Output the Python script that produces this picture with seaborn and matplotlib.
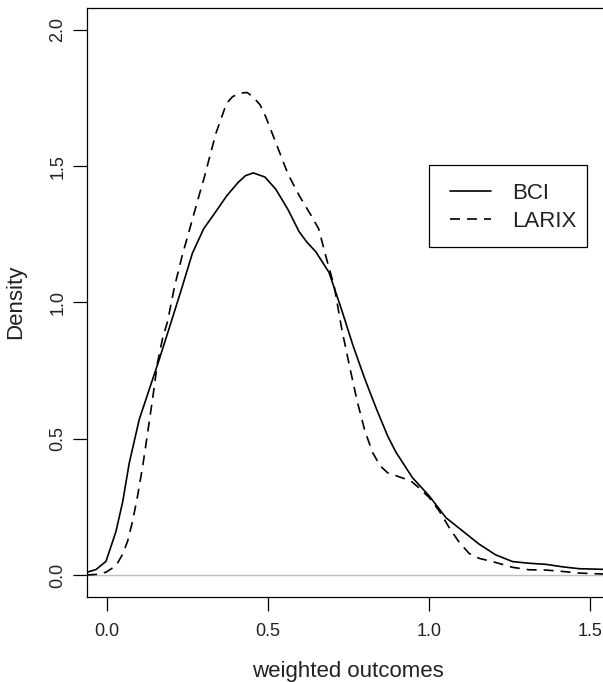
import matplotlib
matplotlib.use("Agg")
import matplotlib.pyplot as plt
import seaborn as sns
import pandas as pd
from matplotlib.lines import Line2D
from matplotlib.patches import Rectangle

# ---- data (density curves) ----
bci_x = [-0.062, -0.034, -0.003, 0.028, 0.049, 0.069, 0.10, 0.131, 0.162, 0.193,
         0.229, 0.265, 0.30, 0.336, 0.371, 0.407, 0.43, 0.454, 0.49, 0.524, 0.562,
         0.596, 0.621, 0.648, 0.689, 0.729, 0.764, 0.80, 0.836, 0.871, 0.897,
         0.948, 1.0, 1.052, 1.103, 1.155, 1.206, 1.259, 1.31, 1.362, 1.413,
         1.465, 1.528, 1.56]
bci_y = [0.01, 0.02, 0.05, 0.16, 0.27, 0.41, 0.57, 0.68, 0.79, 0.905,
         1.04, 1.18, 1.27, 1.33, 1.39, 1.44, 1.465, 1.475, 1.46, 1.415, 1.34,
         1.26, 1.22, 1.186, 1.11, 0.97, 0.84, 0.72, 0.61, 0.51, 0.45,
         0.357, 0.29, 0.21, 0.162, 0.113, 0.074, 0.049, 0.043, 0.039, 0.03,
         0.023, 0.021, 0.02]

larix_x = [-0.062, -0.034, -0.003, 0.028, 0.049, 0.064, 0.08, 0.095, 0.111, 0.126,
           0.142, 0.157, 0.173, 0.188, 0.21, 0.234, 0.264, 0.286, 0.30, 0.338,
           0.371, 0.39, 0.415, 0.435, 0.455, 0.475, 0.493, 0.526, 0.562, 0.596,
           0.633, 0.657, 0.679, 0.705, 0.729, 0.752, 0.776, 0.80, 0.824, 0.848,
           0.871, 0.907, 0.943, 0.968, 1.0, 1.031, 1.062, 1.093, 1.124, 1.155,
           1.206, 1.259, 1.31, 1.362, 1.413, 1.465, 1.528, 1.56]
larix_y = [0.0, 0.002, 0.01, 0.034, 0.077, 0.124, 0.2, 0.29, 0.40, 0.52,
           0.65, 0.78, 0.87, 0.93, 1.06, 1.174, 1.30, 1.393, 1.45, 1.62,
           1.73, 1.755, 1.768, 1.77, 1.752, 1.725, 1.68, 1.58, 1.47, 1.393,
           1.32, 1.27, 1.17, 1.06, 0.90, 0.77, 0.64, 0.53, 0.45, 0.40,
           0.375, 0.36, 0.345, 0.32, 0.284, 0.235, 0.174, 0.12, 0.079, 0.061,
           0.046, 0.028, 0.019, 0.018, 0.013, 0.007, 0.004, 0.003]

series_names = ["BCI", "LARIX"]
x_ticks = [0.0, 0.5, 1.0, 1.5]
y_ticks = [0.0, 0.5, 1.0, 1.5, 2.0]
x_label = "weighted outcomes"
y_label = "Density"

df = pd.concat([
    pd.DataFrame({"x": bci_x, "y": bci_y, "series": series_names[0]}),
    pd.DataFrame({"x": larix_x, "y": larix_y, "series": series_names[1]}),
], ignore_index=True)

sns.set_style("white")
plt.rcParams["font.family"] = ["Liberation Sans", "DejaVu Sans"]

W, H = 603, 682
fig = plt.figure(figsize=(W / 100, H / 100), dpi=100)
ax = fig.add_axes([87 / W, (H - 596.5) / H, 522 / W, 588.5 / H])

ax.axhline(0, color="#bebebe", lw=1.0, zorder=1)

sns.lineplot(data=df, x="x", y="y", style="series", sort=False, estimator=None,
             dashes={"BCI": "", "LARIX": (6, 4.2)}, color="black", lw=1.2,
             ax=ax, legend=False, zorder=3)

ax.set_xlim(-0.062, 1.558)
ax.set_ylim(-0.079, 2.08)
ax.set_xticks(x_ticks)
ax.set_xticklabels([f"{v:.1f}" for v in x_ticks])
ax.set_yticks(y_ticks)
ax.set_yticklabels([f"{v:.1f}" for v in y_ticks], rotation=90, va="center")

for s in ax.spines.values():
    s.set_visible(True)
    s.set_color("black")
    s.set_linewidth(0.9)

ax.tick_params(axis="both", which="major", direction="out", length=10, width=0.9,
               color="black", labelsize=13, labelcolor="#222222")
ax.tick_params(axis="x", pad=9)
ax.tick_params(axis="y", pad=5)
ax.xaxis.set_ticks_position("bottom")
ax.yaxis.set_ticks_position("left")

ax.set_xlabel(x_label, fontsize=16, color="#222222")
ax.set_ylabel(y_label, fontsize=16, color="#222222")
ax.xaxis.set_label_coords(0.5, -(672 - 596.5) / 588.5)
ax.xaxis.label.set_va("center")
ax.yaxis.set_label_coords(-(87 - 16) / 522, 0.5)
ax.yaxis.label.set_va("center")

# legend frame (drawn in figure pixels)
fig.patches.append(Rectangle((429 / W, (H - 247) / H), (587 - 429) / W, (247 - 165) / H,
                             transform=fig.transFigure, fill=True, facecolor="white",
                             edgecolor="black", lw=0.9, zorder=5))
handles = [Line2D([], [], color="black", lw=1.2),
           Line2D([], [], color="black", lw=1.2, dashes=(6, 4.2))]
leg = fig.legend(handles, series_names, loc="center left",
                 bbox_to_anchor=(450 / W, (H - 207.5) / H),
                 frameon=False, fontsize=16,
                 handlelength=1.85, handletextpad=0.95, borderpad=0.0,
                 labelspacing=0.3, borderaxespad=0.0)
leg.set_zorder(6)
for t in leg.get_texts():
    t.set_color("#222222")

fig.savefig("out.png", dpi=100)
